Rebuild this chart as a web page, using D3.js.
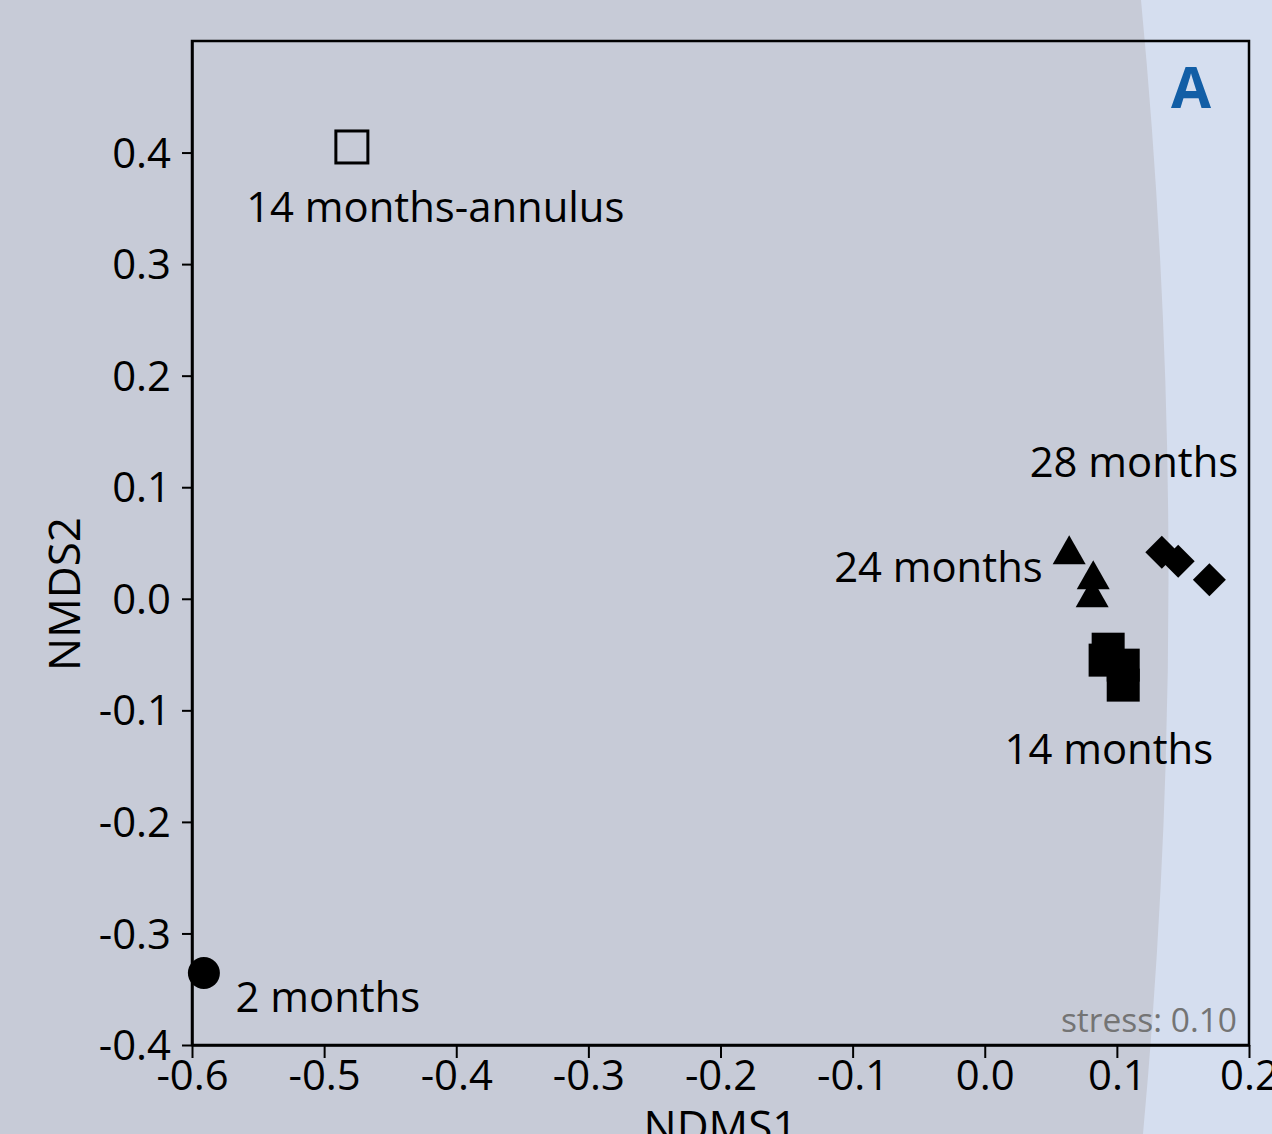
<!DOCTYPE html>
<html>
<head>
<meta charset="utf-8">
<script src="https://cdn.jsdelivr.net/npm/d3@7"></script>
<style>
  body { margin: 0; background: #c7cbd7; }
  svg { display: block; font-family: "Open Sans", sans-serif; }
</style>
</head>
<body>
<div id="okvir"></div>
<script>
// podaci (NMDS koordinate ocitane sa slike)
const grupe = ["2 months", "14 months-annulus", "14 months", "24 months", "28 months"]
const simboli = ["circle", "squareOpen", "square", "triangle", "diamond"]
const nmds1 = [
  [-0.591],
  [-0.479],
  [0.0934, 0.0911, 0.1048, 0.1048],
  [0.0639, 0.0821, 0.0813],
  [0.134, 0.1464, 0.170],
]
const nmds2 = [
  [-0.3355],
  [0.405],
  [-0.0452, -0.055, -0.0595, -0.0774],
  [0.0435, 0.0211, 0.005],
  [0.0418, 0.0337, 0.0171],
]
// pozicije oznaka u jedinicama osi
const oznakaX = [-0.567, -0.559, 0.015, -0.114, 0.034]
const oznakaY = [-0.357, 0.351, -0.135, 0.028, 0.122]
const xTicks = [-0.6, -0.5, -0.4, -0.3, -0.2, -0.1, 0.0, 0.1, 0.2]
const yTicks = [-0.4, -0.3, -0.2, -0.1, 0.0, 0.1, 0.2, 0.3, 0.4]

const dim = { sirina: 1272, visina: 1134, left: 192, right: 1249, top: 41, bottom: 1045 }
const fontVel = 41.8

const svg = d3.select("#okvir").append("svg")
    .attr("width", dim.sirina)
    .attr("height", dim.visina)

// pozadina
svg.append("rect").attr("width", dim.sirina).attr("height", dim.visina).attr("fill", "#c7cbd7")
svg.append("path")
    .attr("d", "M1141,0 Q1195,567 1143,1134 L1272,1134 L1272,0 Z")
    .attr("fill", "#d5deef")

const x = d3.scaleLinear().domain([-0.6, 0.2]).range([dim.left, dim.right])
const y = d3.scaleLinear().domain([-0.4, 0.5]).range([dim.bottom, dim.top])

// okvir
svg.append("rect")
    .attr("x", dim.left).attr("y", dim.top)
    .attr("width", dim.right - dim.left).attr("height", dim.bottom - dim.top)
    .attr("fill", "none").attr("stroke", "#000").attr("stroke-width", 2.5)

const xOs = svg.append("g")
    .attr("transform", `translate(0,${dim.bottom})`)
    .call(d3.axisBottom(x).tickValues(xTicks).tickFormat(d3.format(".1f")).tickSize(13).tickPadding(2).tickSizeOuter(0))
const yOs = svg.append("g")
    .attr("transform", `translate(${dim.left},0)`)
    .call(d3.axisLeft(y).tickValues(yTicks).tickFormat(d3.format(".1f")).tickSize(10).tickPadding(11).tickSizeOuter(0))

for (const os of [xOs, yOs]) {
  os.select(".domain").attr("stroke-width", 2.5)
  os.selectAll(".tick line").attr("stroke-width", 2)
  os.selectAll(".tick text")
      .attr("font-size", fontVel)
      .attr("font-family", "Open Sans")
      .attr("fill", "#000")
      .text(d => d3.format(".1f")(d).replace("−", "-"))
}
yOs.selectAll(".tick text").attr("dy", "0.35em")
xOs.selectAll(".tick text").attr("dy", "0.71em")

svg.append("text")
    .attr("x", (dim.left + dim.right) / 2).attr("y", 1142)
    .attr("text-anchor", "middle").attr("font-size", 44)
    .text("NDMS1")
svg.append("text")
    .attr("transform", `translate(65,${(dim.top + dim.bottom) / 2 + 51}) rotate(-90)`)
    .attr("text-anchor", "middle").attr("dy", "0.35em").attr("font-size", 44)
    .text("NMDS2")

// tocke
const tocke = svg.append("g")
grupe.forEach((g, i) => {
  nmds1[i].forEach((v, j) => {
    const cx = x(v), cy = y(nmds2[i][j])
    const s = simboli[i]
    if (s === "circle") {
      tocke.append("circle").attr("cx", cx).attr("cy", cy).attr("r", 16).attr("fill", "#000")
    } else if (s === "squareOpen") {
      tocke.append("rect").attr("x", cx - 16).attr("y", cy - 16).attr("width", 32).attr("height", 32)
          .attr("fill", "none").attr("stroke", "#000").attr("stroke-width", 3)
    } else if (s === "square") {
      tocke.append("rect").attr("x", cx - 16.5).attr("y", cy - 16.5).attr("width", 33).attr("height", 33).attr("fill", "#000")
    } else if (s === "triangle") {
      tocke.append("path").attr("d", `M${cx},${cy - 15}L${cx + 16.5},${cy + 14}L${cx - 16.5},${cy + 14}Z`).attr("fill", "#000")
    } else {
      tocke.append("path").attr("d", `M${cx},${cy - 16.5}L${cx + 16.5},${cy}L${cx},${cy + 16.5}L${cx - 16.5},${cy}Z`).attr("fill", "#000")
    }
  })
  svg.append("text")
      .attr("x", x(oznakaX[i])).attr("y", y(oznakaY[i]))
      .attr("dy", "0.35em").attr("font-size", fontVel)
      .text(g)
})

svg.append("text")
    .attr("x", 1191).attr("y", 108)
    .attr("text-anchor", "middle").attr("font-size", 58).attr("font-weight", "bold")
    .attr("fill", "#125ea6")
    .text("A")

svg.append("text")
    .attr("x", 1237).attr("y", 1032)
    .attr("text-anchor", "end").attr("font-size", 33.5).attr("fill", "#747474")
    .text("stress: 0.10")
</script>
</body>
</html>
